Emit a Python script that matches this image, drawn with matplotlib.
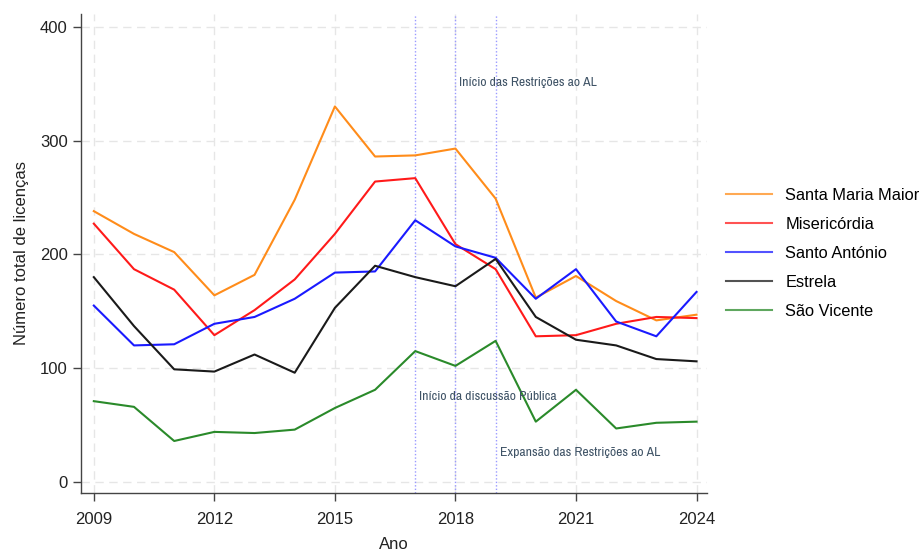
import matplotlib
matplotlib.use("Agg")
import matplotlib.pyplot as plt
from matplotlib import font_manager

years = list(range(2009, 2025))
santa_maria_maior = [238, 218, 202, 164, 182, 248, 330, 286, 287, 293, 249, 162, 181, 159, 142, 147]
misericordia = [227, 187, 169, 129, 151, 178, 218, 264, 267, 209, 187, 128, 129, 139, 145, 144]
santo_antonio = [155, 120, 121, 139, 145, 161, 184, 185, 230, 207, 197, 161, 187, 141, 128, 167]
estrela = [180, 137, 99, 97, 112, 96, 153, 190, 180, 172, 196, 145, 125, 120, 108, 106]
sao_vicente = [71, 66, 36, 44, 43, 46, 65, 81, 115, 102, 124, 53, 81, 47, 52, 53]

series_names = ["Santa Maria Maior", "Misericórdia", "Santo António", "Estrela", "São Vicente"]
series_values = [santa_maria_maior, misericordia, santo_antonio, estrela, sao_vicente]
series_colors = ["#ff8c1a", "#ff1a1a", "#1a1aff", "#1a1a1a", "#2a8a2a"]

event_years = [2017, 2018, 2019]
event_labels = ["Início da discussão Pública", "Início das Restrições ao AL", "Expansão das Restrições ao AL"]
event_label_pos = [(2017.1, 75), (2018.1, 351), (2019.1, 26)]

x_ticks = [2009, 2012, 2015, 2018, 2021, 2024]
y_ticks = [0, 100, 200, 300, 400]

plt.rcParams['font.family'] = ['Liberation Sans', 'DejaVu Sans']

fig = plt.figure(figsize=(9.2, 5.53), dpi=100)
ax = fig.add_axes([0.088, 0.1085, 0.68, 0.8665])

for name, vals, col in zip(series_names, series_values, series_colors):
    ax.plot(years, vals, color=col, lw=1.5, label=name)

for ey in event_years:
    ax.axvline(ey, color="#9a9aff", lw=1.0, ls=(0, (1, 1.5)), zorder=1)

narrow = [f.name for f in font_manager.fontManager.ttflist if 'Narrow' in f.name]
ann_family = [narrow[0], 'Liberation Sans', 'DejaVu Sans'] if narrow else ['Liberation Sans', 'DejaVu Sans']
for lab, (tx, ty) in zip(event_labels, event_label_pos):
    ax.text(tx, ty, lab, fontsize=9.8, color="#3f5366", va="center", ha="left",
            family=ann_family, stretch='condensed')

ax.set_xlim(2008.68, 2024.25)
ax.set_ylim(-9.7, 411.4)
ax.set_xticks(x_ticks)
ax.set_yticks(y_ticks)
ax.grid(True, color="#e6e6e6", ls=(0, (6, 4)), lw=1.0)
ax.set_axisbelow(True)
for s in ["top", "right"]:
    ax.spines[s].set_visible(False)
for s in ["left", "bottom"]:
    ax.spines[s].set_color("#444444")
    ax.spines[s].set_linewidth(1.0)
ax.tick_params(axis="both", colors="#444444", labelcolor="#222222", labelsize=12, length=6, width=1.0)
ax.tick_params(axis="x", pad=8)
ax.set_xlabel("Ano", fontsize=12, color="#222222", labelpad=7)
ax.set_ylabel("Número total de licenças", fontsize=12, color="#222222", labelpad=8)

leg = ax.legend(loc="center left", bbox_to_anchor=(1.008, 0.50), frameon=False, fontsize=11.8,
                handlelength=2.8, labelspacing=0.86, handletextpad=0.8)
for h in leg.legend_handles:
    h.set_alpha(0.75)

fig.savefig("out.png", dpi=100)
